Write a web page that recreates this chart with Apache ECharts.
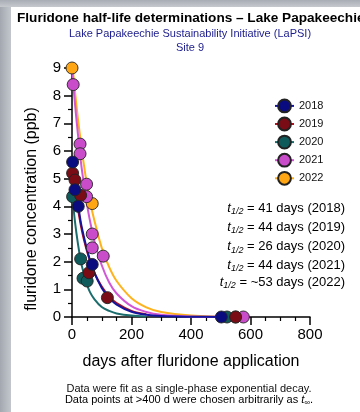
<!DOCTYPE html>
<html>
<head>
<meta charset="utf-8">
<script src="https://cdn.jsdelivr.net/npm/echarts@6/dist/echarts.min.js"></script>
<style>
html,body{margin:0;padding:0;background:#fff;}
#c{width:360px;height:412px;}
</style>
</head>
<body>
<div id="c"></div>
<script>
// ---------- data ----------
const years = ['2018', '2019', '2020', '2021', '2022'];
const halfLifeLabels = ['41 days (2018)', '44 days (2019)', '26 days (2020)', '44 days (2021)', '~53 days (2022)'];
const xTicks = [0, 200, 400, 600, 800];
const yTicks = [0, 1, 2, 3, 4, 5, 6, 7, 8, 9];

// measured points (days, ppb)
const days2018 = [2, 10, 21, 68, 502];
const conc2018 = [5.6, 4.6, 4.0, 1.9, 0];
const days2019 = [2, 10, 29, 57, 119, 550];
const conc2019 = [5.2, 4.95, 4.4, 1.6, 0.7, 0];
const days2020 = [2, 29, 37, 51, 521];
const conc2020 = [4.35, 2.1, 1.4, 1.3, 0];
const days2021 = [4, 27, 27, 49, 49, 68, 68, 105, 576];
const conc2021 = [8.4, 6.25, 5.9, 4.8, 4.35, 3.0, 2.5, 2.2, 0];
const days2022 = [0, 68, 550];
const conc2022 = [9.0, 4.1, 0];

// fitted curves (days, ppb)
const fitDays2018 = [0, 10, 20, 30, 40, 50, 60, 75, 100, 125, 150, 200, 250, 300, 400, 502];
const fit2018 = [5.7, 4.8, 4.1, 3.4, 2.9, 2.46, 2.07, 1.6, 1.05, 0.69, 0.45, 0.19, 0.08, 0.035, 0.01, 0];
const fitDays2019 = [0, 10, 20, 30, 40, 50, 60, 75, 100, 125, 150, 200, 250];
const fit2019 = [5.3, 4.5, 3.9, 3.3, 2.8, 2.4, 2.05, 1.6, 1.1, 0.74, 0.5, 0.22, 0.1];
const fitDays2020 = [0, 10, 20, 30, 40, 50, 60, 75, 100, 125, 150, 200, 250];
const fit2020 = [4.5, 3.45, 2.64, 2.0, 1.55, 1.19, 0.91, 0.65, 0.36, 0.22, 0.13, 0.05, 0.02];
const fitDays2021 = [0, 10, 20, 30, 40, 50, 60, 75, 100, 125, 150, 200, 250, 300, 400, 500, 576];
const fit2021 = [9.0, 7.7, 6.6, 5.6, 4.8, 4.1, 3.5, 2.76, 1.87, 1.25, 0.85, 0.39, 0.18, 0.08, 0.02, 0.005, 0];
const fitDays2022 = [0, 10, 20, 30, 40, 50, 60, 75, 100, 125, 150, 200, 250, 300, 400, 500, 550];
const fit2022 = [9.3, 8.15, 7.15, 6.3, 5.5, 4.8, 4.2, 3.5, 2.5, 1.8, 1.3, 0.68, 0.35, 0.18, 0.05, 0.01, 0];

// ---------- styles ----------
const markerColors = ['#0b0b80', '#7a0c16', '#0f5b5b', '#c94ccb', '#ffa614'];
const lineColors = ['#14149e', '#b0121f', '#1b6d6d', '#d257d6', '#ffb21c'];

const pts = [[days2018, conc2018], [days2019, conc2019], [days2020, conc2020], [days2021, conc2021], [days2022, conc2022]];
const fits = [[fitDays2018, fit2018], [fitDays2019, fit2019], [fitDays2020, fit2020], [fitDays2021, fit2021], [fitDays2022, fit2022]];
const zip = (a, b) => a.map((v, i) => [v, b[i]]);

const FONT = 'Liberation Sans, Arial, Helvetica, sans-serif';
const series = [];
// lines first (legend icon taken from them)
[4, 3, 2, 1, 0].forEach(i => {
  series.push({
    name: years[i], type: 'line', smooth: 0.35, showSymbol: false, symbol: 'circle',
    data: zip(fits[i][0], fits[i][1]), silent: true, z: 2,
    itemStyle: { color: markerColors[i], borderColor: '#222', borderWidth: 0.8 },
    lineStyle: { color: lineColors[i], width: 2 }
  });
});
// scatter: orange bottom ... blue top
[4, 3, 2, 1, 0].forEach(i => {
  series.push({
    name: years[i], type: 'scatter', symbol: 'circle', symbolSize: 12, z: 3, silent: true,
    data: zip(pts[i][0], pts[i][1]),
    itemStyle: { color: markerColors[i], borderColor: '#222', borderWidth: 0.9, opacity: 1 }
  });
});

const richT = {
  i: { fontStyle: 'italic', fontSize: 13, fontFamily: FONT, color: '#111', lineHeight: 16 },
  s: { fontStyle: 'italic', fontSize: 9, fontFamily: FONT, color: '#111', lineHeight: 8, verticalAlign: 'bottom' },
  n: { fontSize: 13, fontFamily: FONT, color: '#111', lineHeight: 16 }
};
const hlY = [208, 227, 246.5, 265, 282];
const graphics = [
  { type: 'rect', left: 0, top: 0, shape: { width: 11, height: 412 }, silent: true,
    style: { fill: new echarts.graphic.LinearGradient(0, 0, 1, 0, [{ offset: 0, color: '#a3a8b0' }, { offset: 1, color: '#c3c7cd' }]) } },
  { type: 'rect', left: 0, top: 0, shape: { width: 360, height: 7 }, silent: true,
    style: { fill: new echarts.graphic.LinearGradient(0, 0, 0, 1, [{ offset: 0, color: '#a8acb4' }, { offset: 1, color: '#c6c9ce' }]) } },
  { type: 'text', x: 17, y: 18, silent: true,
    style: { text: 'Fluridone half-life determinations \u2013 Lake Papakeechie', font: 'bold 13.6px ' + FONT, fill: '#000', verticalAlign: 'middle', align: 'left' } },
  { type: 'text', x: 190, y: 34, silent: true,
    style: { text: 'Lake Papakeechie Sustainability Initiative (LaPSI)', font: '11px ' + FONT, fill: '#1c1c8c', verticalAlign: 'middle', align: 'center' } },
  { type: 'text', x: 190, y: 48, silent: true,
    style: { text: 'Site 9', font: '11px ' + FONT, fill: '#1c1c8c', verticalAlign: 'middle', align: 'center' } },
  { type: 'text', x: 32, y: 209, rotation: Math.PI / 2, silent: true,
    style: { text: 'fluridone concentration (ppb)', font: '16px ' + FONT, fill: '#000', verticalAlign: 'middle', align: 'center' } },
  { type: 'text', x: 189, y: 389, silent: true,
    style: { text: 'Data were fit as a single-phase exponential decay.', font: '11px ' + FONT, fill: '#111', verticalAlign: 'middle', align: 'center' } },
  { type: 'text', x: 189, y: 400, silent: true,
    style: { text: '{n|Data points at >400 d were chosen arbitrarily as }{i|t}{s|\u221E}{n|.}', align: 'center', verticalAlign: 'middle',
      rich: {
        n: { fontSize: 11, fontFamily: FONT, color: '#111', lineHeight: 13 },
        i: { fontSize: 11, fontStyle: 'italic', fontFamily: FONT, color: '#111', lineHeight: 13 },
        s: { fontSize: 8, fontStyle: 'italic', fontFamily: FONT, color: '#111', lineHeight: 7, verticalAlign: 'bottom' }
      } } }
];
halfLifeLabels.forEach((t, k) => {
  graphics.push({ type: 'text', x: 345, y: hlY[k], silent: true,
    style: { text: '{i|t}{s|1/2}{n| = ' + t + '}', rich: richT, align: 'right', verticalAlign: 'middle' } });
});

const chart = echarts.init(document.getElementById('c'), null, { renderer: 'canvas' });
chart.setOption({
  animation: false,
  backgroundColor: '#fff',
  textStyle: { fontFamily: FONT },
  grid: { left: 72, right: 50, top: 68, bottom: 95, containLabel: false },
  legend: {
    orient: 'vertical', left: 269, top: 93.5, itemWidth: 19, itemHeight: 16, itemGap: 3.3,
    data: years, selectedMode: false,
    textStyle: { fontSize: 11, color: '#111', fontFamily: FONT, padding: [0, 0, 0, 0] }
  },
  xAxis: {
    type: 'value', min: xTicks[0], max: xTicks[xTicks.length - 1], interval: 200,
    name: 'days after fluridone application', nameLocation: 'middle', nameGap: 37,
    nameTextStyle: { fontSize: 16, color: '#000', fontFamily: FONT },
    axisLine: { show: true, onZero: false, lineStyle: { color: '#000', width: 1.5 } },
    axisTick: { show: true, length: 8, lineStyle: { color: '#000', width: 1.5 } },
    minorTick: { show: true, splitNumber: 4, length: 4, lineStyle: { color: '#000', width: 1.2 } },
    axisLabel: { fontSize: 15, color: '#000', margin: 10, fontFamily: FONT },
    splitLine: { show: false }
  },
  yAxis: {
    type: 'value', min: yTicks[0], max: yTicks[yTicks.length - 1], interval: 1,
    axisLine: { show: true, onZero: false, lineStyle: { color: '#000', width: 1.5 } },
    axisTick: { show: true, length: 8, lineStyle: { color: '#000', width: 1.5 } },
    minorTick: { show: true, splitNumber: 2, length: 4, lineStyle: { color: '#000', width: 1.2 } },
    axisLabel: { fontSize: 15, color: '#000', margin: 11, fontFamily: FONT },
    splitLine: { show: false }
  },
  series: series,
  graphic: graphics
});
</script>
</body>
</html>
